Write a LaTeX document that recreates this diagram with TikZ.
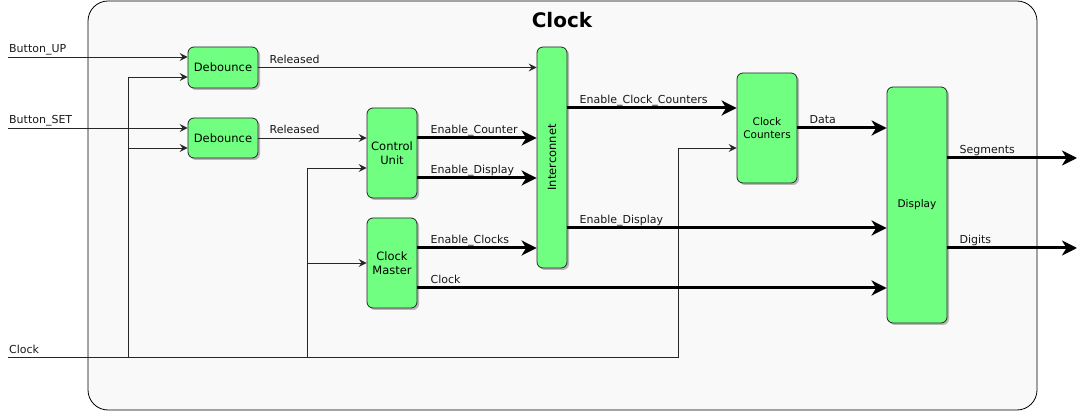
\documentclass[tikz,border=0pt]{standalone}
\usepackage{fontspec}
\setmainfont{DejaVu Sans}
\usetikzlibrary{arrows.meta,shadows,calc}
\definecolor{boxgreen}{RGB}{113,255,129}
\definecolor{bgc}{RGB}{249,249,249}
\begin{document}
\begin{tikzpicture}[x=1pt,y=-1pt,
 blk/.style={draw=black!85, fill=boxgreen, rounded corners=6pt, inner sep=0pt, line width=0.8pt, align=center,
   font=\fontsize{11.5}{13.5}\selectfont,
   drop shadow={shadow xshift=2pt,shadow yshift=-2pt,fill=black!45,opacity=0.6}},
 blks/.style={blk, font=\fontsize{10.5}{12.5}\selectfont},
 thin/.style={line width=0.9pt, draw=black!85, -{Stealth[length=8pt,width=8pt,inset=3pt]}},
 thick/.style={line width=3pt, -{Stealth[length=15pt,width=15pt,inset=4.5pt]}},
 lbl/.style={font=\fontsize{11}{13}\selectfont, inner sep=0pt, anchor=base west, text=black!90}
]
\useasboundingbox (0,0) rectangle (1087,411);
\node[draw=black, line width=0.8pt, fill=bgc, rounded corners=20pt, minimum width=949pt, minimum height=409pt, inner sep=0pt] (frame) at (562.5,205.5) {};
\node[font=\bfseries\fontsize{20}{24}\selectfont] (title) at (562,20) {Clock};

% blocks
\node[blk, minimum width=70pt, minimum height=41pt] (deb1) at (223,67.5) {Debounce};
\node[blk, minimum width=70pt, minimum height=40pt] (deb2) at (223,138) {Debounce};
\node[blk, minimum width=50pt, minimum height=90pt] (cu) at (392,153) {Control\\Unit};
\node[blk, minimum width=50pt, minimum height=90pt] (cm) at (392,263) {Clock\\Master};
\node[blk, minimum width=30pt, minimum height=221pt] (inter) at (552,157.5) {\rotatebox{90}{Interconnet}};
\node[blks, minimum width=60pt, minimum height=110pt] (cc) at (767,128) {Clock\\Counters};
\node[blks, minimum width=60pt, minimum height=236pt] (disp) at (917,205) {Display};

% free ends
\coordinate (bup) at (8,57);
\coordinate (bset) at (8,128);
\coordinate (clk) at (8,357.5);
\coordinate (t1) at (128,357.5);
\coordinate (t2) at (307,357.5);
\coordinate (t3) at (678,357.5);
\coordinate (j1) at (128,77);
\coordinate (j2) at (128,148);
\coordinate (j3) at (307,263);
\coordinate (segend) at (1077,158);
\coordinate (digend) at (1077,248);

% inputs
\draw[thin] (bup) -- (bup -| deb1.west);
\node[lbl] at ($(bup)+(1,-4)$) {Button\_UP};
\draw[thin] (bset) -- (bset -| deb2.west);
\node[lbl] at ($(bset)+(1,-4)$) {Button\_SET};
\draw[thin] (clk) -- (t3) |- ($(cc.west)+(0,20)$);
\node[lbl] at ($(clk)+(1,-4)$) {Clock};
\draw[thin] (t1) |- (j1) -- (j1 -| deb1.west);
\draw[thin] (j2) -- (j2 -| deb2.west);
\draw[thin] (t2) |- ($(cu.west)+(0,15)$);
\draw[thin] (j3) -- (cm.west);

% released
\draw[thin] (deb1.east) -- (deb1.east -| inter.west);
\node[lbl] at ($(deb1.east)+(11,-4)$) {Released};
\draw[thin] (deb2.east) -- (deb2.east -| cu.west);
\node[lbl] at ($(deb2.east)+(11,-4)$) {Released};

% control unit outputs
\draw[thick] ($(cu.east)+(0,-15)$) coordinate (ecs) -- (ecs -| inter.west);
\node[lbl] at ($(ecs)+(13,-4)$) {Enable\_Counter};
\draw[thick] ($(cu.east)+(0,25)$) coordinate (eds) -- (eds -| inter.west);
\node[lbl] at ($(eds)+(13,-4)$) {Enable\_Display};

% clock master outputs
\draw[thick] ($(cm.east)+(0,-15)$) coordinate (ecl) -- (ecl -| inter.west);
\node[lbl] at ($(ecl)+(13,-4)$) {Enable\_Clocks};
\draw[thick] ($(cm.east)+(0,25)$) coordinate (ck) -- (ck -| disp.west);
\node[lbl] at ($(ck)+(13,-4)$) {Clock};

% interconnect outputs
\draw[thick] ($(inter.east)+(0,-49.5)$) coordinate (ecc) -- (ecc -| cc.west);
\node[lbl] at ($(ecc)+(12,-4)$) {Enable\_Clock\_Counters};
\draw[thick] ($(inter.east)+(0,70.5)$) coordinate (ed2) -- (ed2 -| disp.west);
\node[lbl] at ($(ed2)+(12,-4)$) {Enable\_Display};

% counters to display
\draw[thick] (cc.east) -- (cc.east -| disp.west);
\node[lbl] at ($(cc.east)+(12,-4)$) {Data};

% display outputs
\draw[thick] (disp.east |- segend) -- (segend);
\node[lbl] at ($(disp.east |- segend)+(12,-4)$) {Segments};
\draw[thick] (disp.east |- digend) -- (digend);
\node[lbl] at ($(disp.east |- digend)+(12,-4)$) {Digits};
\end{tikzpicture}
\end{document}
